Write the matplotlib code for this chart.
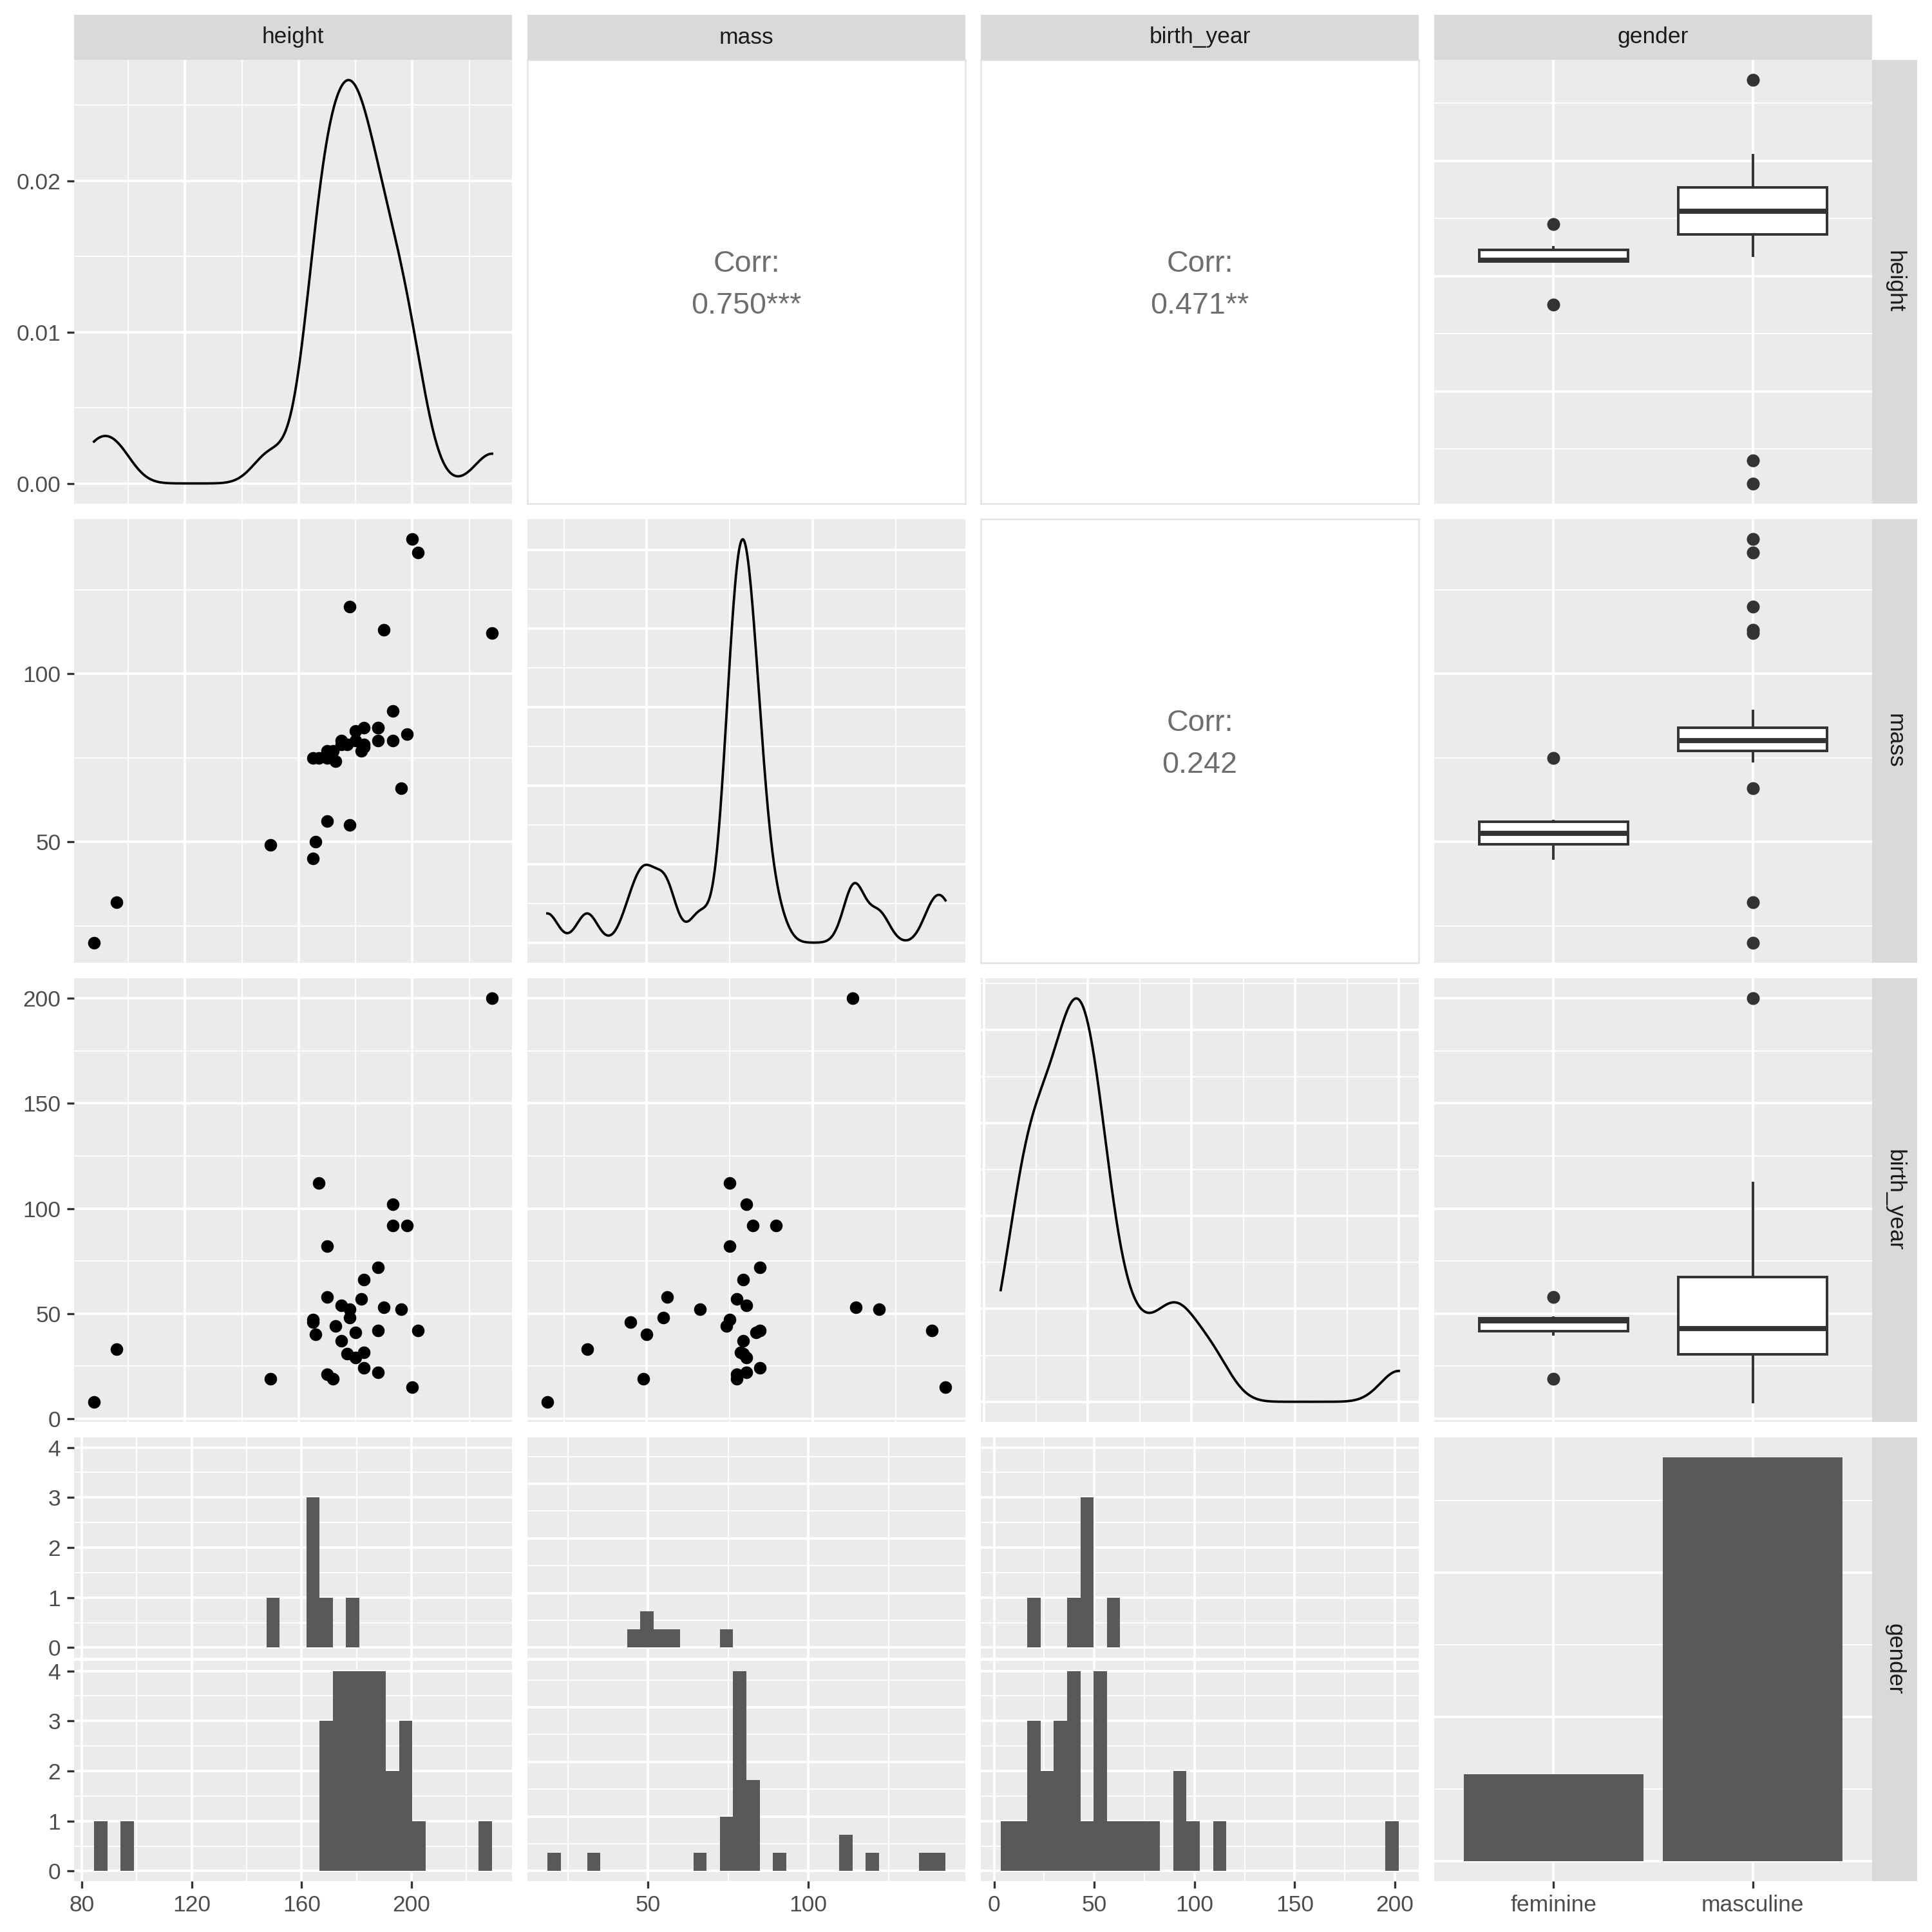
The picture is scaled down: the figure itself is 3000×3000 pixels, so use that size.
import numpy as np
import matplotlib
matplotlib.use("Agg")
import matplotlib.pyplot as plt
from matplotlib.ticker import FuncFormatter
import seaborn as sns

plt.rcParams["font.family"] = ["Liberation Sans", "DejaVu Sans"]

# starwars characters with height, mass, birth_year and gender all known
height = [172, 167, 96, 202, 150, 178, 165, 183, 182, 188, 228, 180, 173, 170, 170, 183, 200,
          190, 177, 175, 180, 88, 193, 165, 196, 175, 178, 188, 198, 188, 170, 166, 193, 183]
mass = [77, 75, 32, 136, 49, 120, 75, 84, 77, 84, 112, 80, 74, 77, 75, 78.2, 140,
        113, 79, 79, 83, 20, 89, 45, 66, 80, 55, 84, 82, 80, 56.2, 50, 80, 79]
birth_year = [19, 112, 33, 41.9, 19, 52, 47, 24, 57, 41.9, 200, 29, 44, 21, 82, 31.5, 15,
              53, 31, 37, 41, 8, 92, 46, 52, 54, 48, 72, 92, 22, 58, 40, 102, 66]
gender = ["masculine", "masculine", "masculine", "masculine", "feminine", "masculine",
          "feminine", "masculine", "masculine", "masculine", "masculine", "masculine",
          "masculine", "masculine", "masculine", "masculine", "masculine", "masculine",
          "masculine", "masculine", "masculine", "masculine", "masculine", "feminine",
          "masculine", "masculine", "feminine", "masculine", "masculine", "masculine",
          "feminine", "feminine", "masculine", "masculine"]

variables = ["height", "mass", "birth_year", "gender"]
levels = ["feminine", "masculine"]
corr_labels = {(0, 1): "0.750***", (0, 2): "0.471**", (1, 2): "0.242"}

data = {"height": np.array(height, float), "mass": np.array(mass, float),
        "birth_year": np.array(birth_year, float)}
g = np.array(gender)

# gridline steps per variable (what ggplot picked)
axis_step = {"height": 40, "mass": 50, "birth_year": 50}
dens_step = {"height": 0.01, "mass": 0.01, "birth_year": 0.004}
count_step = {"height": 1, "mass": 3, "birth_year": 1}

BG = "#EBEBEB"
STRIP = "#D9D9D9"
BAR = "#595959"
DARK = "#333333"

col_x = [115, 819, 1523, 2227]
row_y = [93, 806, 1519, 2232]
PW, PH = 680, 689

fig = plt.figure(figsize=(10, 10), dpi=300, facecolor="white")


def px_axes(x, y, w, h):
    return fig.add_axes([x / 3000, 1 - (y + h) / 3000, w / 3000, h / 3000])


def expand(lo, hi, m=0.05):
    d = hi - lo
    return lo - m * d, hi + m * d


def breaks(lim, step):
    lo, hi = lim
    k = np.arange(np.ceil(lo / step - 1e-9), np.floor(hi / step + 1e-9) + 1)
    km = np.arange(np.ceil(lo / step - 0.5 - 1e-9), np.floor(hi / step - 0.5 + 1e-9) + 1)
    return k * step + 0.0, (km + 0.5) * step


def nrd0(v):
    sd = v.std(ddof=1)
    iqr = np.percentile(v, 75) - np.percentile(v, 25)
    return 0.9 * min(sd, iqr / 1.34) * len(v) ** -0.2


def gg_bins(v, bins=30):
    lo, hi = v.min(), v.max()
    w = (hi - lo) / (bins - 1)
    origin = w / 2 + np.floor((lo - w / 2) / w) * w
    return origin + w * np.arange(bins + 1)


def base(ax, xlim, ylim, xstep, ystep):
    ax.set_facecolor(BG)
    for s in ax.spines.values():
        s.set_visible(False)
    ax.set_xlim(xlim)
    ax.set_ylim(ylim)
    if xstep is None:
        ax.set_xticks([1, 2])
        ax.set_xticks([], minor=True)
    else:
        mj, mn = breaks(xlim, xstep)
        ax.set_xticks(mj)
        ax.set_xticks(mn, minor=True)
    mj, mn = breaks(ylim, ystep)
    ax.set_yticks(mj)
    ax.set_yticks(mn, minor=True)
    ax.grid(which="major", color="white", linewidth=0.9)
    ax.grid(which="minor", color="white", linewidth=0.45)
    ax.set_axisbelow(True)
    ax.tick_params(which="both", length=0, labelleft=False, labelbottom=False)
    ax.set_xlabel("")
    ax.set_ylabel("")


tick_kw = dict(which="major", length=2.75, width=0.8, color=DARK, labelsize=8.5,
               labelcolor="#4D4D4D", pad=2.2)


def clean(v):
    return 0.0 if abs(v) < 1e-12 else v


def show_left(ax, fmt):
    ax.tick_params(axis="y", left=True, labelleft=True, **tick_kw)
    ax.yaxis.set_major_formatter(FuncFormatter(lambda v, p: fmt(clean(v))))


def show_bottom(ax):
    ax.tick_params(axis="x", bottom=True, labelbottom=True, **tick_kw)
    ax.xaxis.set_major_formatter(FuncFormatter(lambda v, p: f"{clean(v):g}"))


num_fmt = lambda v: f"{v:g}"
dens_fmt = lambda v: f"{v:.2f}"

for r in range(3):
    vr = variables[r]
    for c in range(3):
        vc = variables[c]
        ax = px_axes(col_x[c], row_y[r], PW, PH)
        x = data[vc]
        xlim = expand(x.min(), x.max())
        if r == c:
            sns.kdeplot(x=x, ax=ax, bw_method=nrd0(x) / x.std(ddof=1), cut=0,
                        gridsize=512, color="black", linewidth=0.9)
            yd = ax.get_lines()[-1].get_ydata()
            ylim = expand(yd.min(), yd.max())
            base(ax, xlim, ylim, axis_step[vc], dens_step[vc])
            if c == 0:
                show_left(ax, dens_fmt)
        elif r > c:
            y = data[vr]
            ax.scatter(x, y, s=22, color="black", linewidths=0)
            base(ax, xlim, expand(y.min(), y.max()), axis_step[vc], axis_step[vr])
            if c == 0:
                show_left(ax, num_fmt)
        else:
            ax.set_facecolor("white")
            for s in ax.spines.values():
                s.set_color("#E3E3E3")
                s.set_linewidth(0.6)
            ax.set_xticks([])
            ax.set_yticks([])
            ax.text(0.5, 0.540, "Corr:", transform=ax.transAxes, ha="center",
                    va="center", fontsize=11.2, color="#6E6E6E")
            ax.text(0.5, 0.445, corr_labels[(r, c)], transform=ax.transAxes,
                    ha="center", va="center", fontsize=11.2, color="#6E6E6E")

    # boxplot of the row variable by gender
    ax = px_axes(col_x[3], row_y[r], PW, PH)
    y = data[vr]
    groups = [y[g == lv] for lv in levels]
    ax.boxplot(groups, positions=[1, 2], widths=0.75, patch_artist=True, showcaps=False,
               boxprops=dict(facecolor="white", edgecolor=DARK, linewidth=0.95),
               whiskerprops=dict(color=DARK, linewidth=0.95),
               medianprops=dict(color=DARK, linewidth=1.9),
               flierprops=dict(marker="o", markerfacecolor=DARK, markeredgecolor="none",
                               markersize=4.8))
    base(ax, (0.4, 2.6), expand(y.min(), y.max()), None, axis_step[vr])

# bottom row: histograms faceted by gender
fh, gap = 342, 5
for c in range(3):
    vc = variables[c]
    x = data[vc]
    edges = gg_bins(x)
    fuzz = 1e-8 * (edges[1] - edges[0])
    counts = [np.histogram(x[g == lv], bins=edges + fuzz)[0] for lv in levels]
    ylim = expand(0, max(cn.max() for cn in counts))
    xlim = expand(edges[0], edges[-1])
    for i, lv in enumerate(levels):
        ax = px_axes(col_x[c], row_y[3] + i * (fh + gap), PW, fh)
        ax.hist(x[g == lv], bins=edges + fuzz, color=BAR, edgecolor="none")
        base(ax, xlim, ylim, axis_step[vc], count_step[vc])
        if c == 0:
            show_left(ax, num_fmt)
        if i == 1:
            show_bottom(ax)

# gender bar chart
ax = px_axes(col_x[3], row_y[3], PW, PH)
bar_counts = [int((g == lv).sum()) for lv in levels]
ax.bar([1, 2], bar_counts, width=0.9, color=BAR)
base(ax, (0.4, 2.6), expand(0, max(bar_counts)), None, 10)
ax.tick_params(axis="x", bottom=True, labelbottom=True, **tick_kw)
ax.set_xticklabels(levels)

# strips
for c, name in enumerate(variables):
    s = px_axes(col_x[c], 23, PW, 70)
    s.set_facecolor(STRIP)
    s.set_xticks([])
    s.set_yticks([])
    for sp in s.spines.values():
        sp.set_visible(False)
    s.text(0.5, 0.5, name, ha="center", va="center", fontsize=8.5, color="#1A1A1A")
for r, name in enumerate(variables):
    s = px_axes(2907, row_y[r], 70, PH)
    s.set_facecolor(STRIP)
    s.set_xticks([])
    s.set_yticks([])
    for sp in s.spines.values():
        sp.set_visible(False)
    s.text(0.5, 0.5, name, ha="center", va="center", rotation=270, fontsize=8.5,
           color="#1A1A1A")

fig.savefig("out.png", dpi=300)
